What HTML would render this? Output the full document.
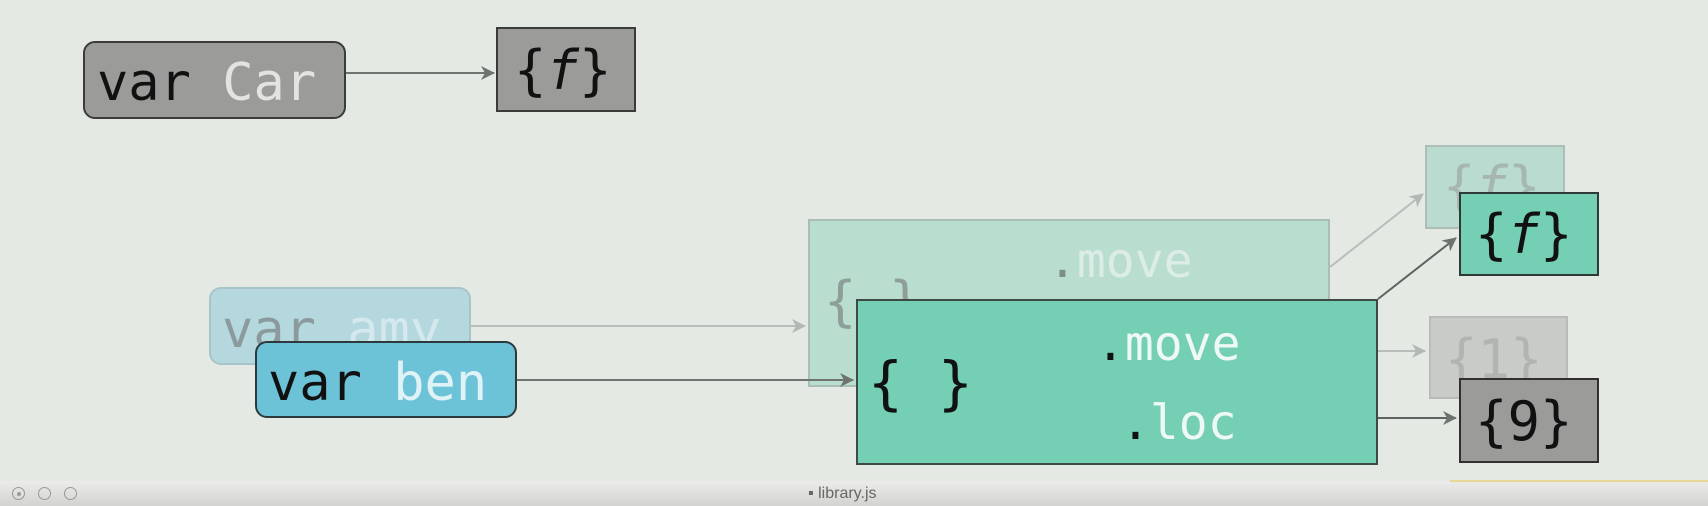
<!DOCTYPE html>
<html><head><meta charset="utf-8"><style>
html,body{margin:0;padding:0}
body{width:1708px;height:506px;position:relative;overflow:hidden;background:#e5e9e3;font-family:"DejaVu Sans Mono","Liberation Mono",monospace}
.b{position:absolute;box-sizing:border-box}
.t{position:absolute;white-space:pre;line-height:1}
</style></head><body>
<svg width="1708" height="506" style="position:absolute;left:0;top:0">
<defs>
<marker id="a" markerWidth="16" markerHeight="16" refX="13" refY="8" orient="auto" markerUnits="userSpaceOnUse"><path d="M0,1 L14,8 L0,15 L4,8z" fill="#6f736f"/></marker>
<marker id="af" markerWidth="16" markerHeight="16" refX="13" refY="8" orient="auto" markerUnits="userSpaceOnUse"><path d="M0,1 L14,8 L0,15 L4,8z" fill="#b4b8b4"/></marker>
</defs>
<line x1="346" y1="73" x2="494" y2="73" stroke="#707470" stroke-width="2" marker-end="url(#a)"/>
<line x1="471" y1="326" x2="805" y2="326" stroke="#b9bdb9" stroke-width="2" marker-end="url(#af)"/>
<line x1="1330" y1="267" x2="1423" y2="194" stroke="#b9bdb9" stroke-width="2" marker-end="url(#af)"/>
<line x1="1378" y1="351" x2="1425" y2="351" stroke="#b9bdb9" stroke-width="2" marker-end="url(#af)"/>
</svg>
<div class="b" style="left:83px;top:41px;width:263px;height:78px;background:#9b9c9a;border:2px solid #3a3b3a;border-radius:12px"></div>
<div class="t" style="left:97px;top:57px;font-size:52px;color:#111">var <span style="color:#e3e3e0">Car</span></div>
<div class="b" style="left:496px;top:27px;width:140px;height:85px;background:#9b9c9a;border:2px solid #3a3b3a"></div>
<div class="t" style="left:514px;top:44px;font-size:54px;color:#111">{<i>f</i>}</div>

<div class="b" style="left:808px;top:219px;width:522px;height:168px;background:#b9ddcf;border:2px solid #a9beb6"></div>
<div class="t" style="left:824px;top:275px;font-size:54px;color:#8d9f98">{ }</div>
<div class="t" style="left:1048px;top:237px;font-size:48px;color:#dcece6"><span style="color:#7e8f88">.</span>move</div>
<div class="b" style="left:1425px;top:145px;width:140px;height:84px;background:#badbcf;border:2px solid #aebdb6"></div>
<div class="t" style="left:1443px;top:160px;font-size:54px;color:#a5b7b0">{<i>f</i>}</div>
<div class="b" style="left:1429px;top:316px;width:139px;height:83px;background:#c8cbc7;border:2px solid #b8bbb7"></div>
<div class="t" style="left:1445px;top:333px;font-size:54px;color:#b1b4b0">{1}</div>

<div class="b" style="left:209px;top:287px;width:262px;height:78px;background:#b5d7de;border:2px solid #a9c4c9;border-radius:12px"></div>
<div class="t" style="left:222px;top:304px;font-size:52px;color:#8a9a9d">var <span style="color:#d4e9ed">amy</span></div>

<svg width="1708" height="506" style="position:absolute;left:0;top:0">
<defs>
<marker id="a2" markerWidth="16" markerHeight="16" refX="13" refY="8" orient="auto" markerUnits="userSpaceOnUse"><path d="M0,1 L14,8 L0,15 L4,8z" fill="#6f736f"/></marker>
</defs>
<line x1="517" y1="380" x2="853" y2="380" stroke="#707470" stroke-width="2" marker-end="url(#a2)"/>
<line x1="1378" y1="299" x2="1456" y2="238" stroke="#5f635f" stroke-width="2" marker-end="url(#a2)"/>
<line x1="1378" y1="418" x2="1456" y2="418" stroke="#5f635f" stroke-width="2" marker-end="url(#a2)"/>
</svg>
<div class="b" style="left:255px;top:341px;width:262px;height:77px;background:#6cc3d7;border:2px solid #2d3a3d;border-radius:12px"></div>
<div class="t" style="left:268px;top:357px;font-size:52px;color:#111">var <span style="color:#dff2f6">ben</span></div>

<div class="b" style="left:856px;top:299px;width:522px;height:166px;background:#74cfb4;border:2px solid #3d4a45"></div>
<div class="t" style="left:868px;top:354px;font-size:58px;color:#111">{ }</div>
<div class="t" style="left:1096px;top:320px;font-size:48px;color:#eef8f4"><span style="color:#111">.</span>move</div>
<div class="t" style="left:1121px;top:399px;font-size:48px;color:#eef8f4"><span style="color:#111">.</span>loc</div>

<div class="b" style="left:1459px;top:192px;width:140px;height:84px;background:#74cfb4;border:2px solid #2f3a36"></div>
<div class="t" style="left:1475px;top:208px;font-size:54px;color:#111">{<i>f</i>}</div>
<div class="b" style="left:1459px;top:378px;width:140px;height:85px;background:#9b9c9a;border:2px solid #2f302f"></div>
<div class="t" style="left:1475px;top:395px;font-size:54px;color:#111">{9}</div>

<div class="b" style="left:0;top:481px;width:1708px;height:25px;background:linear-gradient(#ececea,#d3d3d1)"></div>
<div class="b" style="left:1450px;top:480px;width:258px;height:2px;background:#e8d898"></div>
<div class="b" style="left:12px;top:487px;width:13px;height:13px;border:1.5px solid #999;border-radius:50%"></div>
<div class="b" style="left:17px;top:492px;width:4px;height:4px;background:#999;border-radius:50%"></div>
<div class="b" style="left:38px;top:487px;width:13px;height:13px;border:1.5px solid #999;border-radius:50%"></div>
<div class="b" style="left:64px;top:487px;width:13px;height:13px;border:1.5px solid #999;border-radius:50%"></div>
<div class="t" style="left:808px;top:486px;font-size:16px;color:#666;font-family:'Liberation Sans',sans-serif">▪ library.js</div>
</body></html>
